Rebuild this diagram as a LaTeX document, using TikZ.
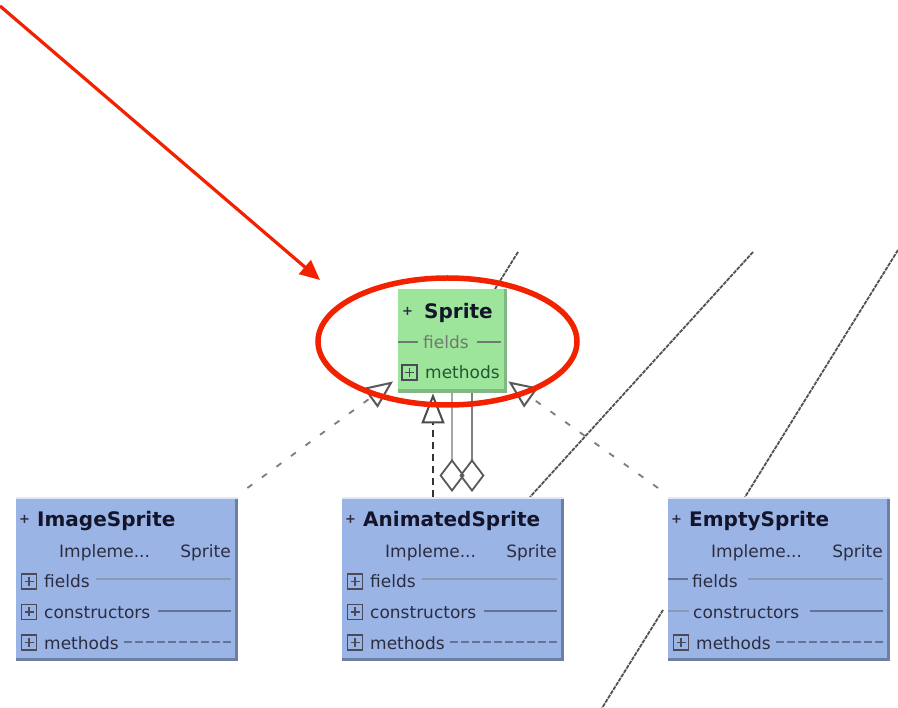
\documentclass[tikz,border=0pt]{standalone}
\usepackage{fontspec}
\setmainfont{DejaVu Sans}
\usetikzlibrary{arrows.meta,calc}
\pgfdeclarelayer{background}
\pgfsetlayers{background,main}
\definecolor{bluefill}{HTML}{9BB4E6}
\definecolor{blueshade}{HTML}{6F7FA3}
\definecolor{greenfill}{HTML}{9DE59B}
\definecolor{greenshade}{HTML}{82B883}
\definecolor{redmark}{HTML}{F22200}
\definecolor{txtdark}{HTML}{14142A}
\definecolor{txtmid}{HTML}{2C2C40}
\definecolor{fieldgrey}{HTML}{6E7A6E}
\definecolor{linegrey}{HTML}{5A5A5A}
\definecolor{iconline}{HTML}{4A4A58}
\tikzset{
  bluebox/.style={rectangle, fill=bluefill, draw=none, minimum width=222pt, minimum height=164pt, inner sep=0pt, anchor=north west},
  greenbox/.style={rectangle, fill=greenfill, draw=none, minimum width=109pt, minimum height=104pt, inner sep=0pt, anchor=north west},
  titletxt/.style={font=\fontsize{20}{22}\selectfont\bfseries, text=txtdark, inner sep=0pt, anchor=west, text height=14.6pt, text depth=0pt},
  rowtxt/.style={font=\fontsize{17}{19}\selectfont, text=txtmid, inner sep=0pt, anchor=west, text height=13pt, text depth=0pt},
  plustxt/.style={font=\fontsize{13}{14}\selectfont\bfseries, text=txtmid, inner sep=0pt, anchor=west},
  iconbox/.style={rectangle, draw=iconline, line width=1.6pt, minimum size=15pt, inner sep=0pt,
    path picture={\draw[iconline, line width=1.6pt] ($(path picture bounding box.west)+(3pt,0)$) -- ($(path picture bounding box.east)+(-3pt,0)$);
                  \draw[iconline, line width=1.6pt] ($(path picture bounding box.north)+(0,-3pt)$) -- ($(path picture bounding box.south)+(0,3pt)$);}},
  fieldline/.style={draw=blueshade!80!white, line width=1.6pt},
  ctorline/.style={draw=blueshade!90!black, line width=2.6pt},
  methline/.style={draw=blueshade!90!black, line width=1.8pt, dash pattern=on 8pt off 3pt},
  realize/.style={draw=linegrey!80!white, line width=1.8pt, dash pattern=on 6pt off 12pt, -{Triangle[open, length=28pt, width=24pt, line width=2pt, color=black!65]}},
  realizev/.style={draw=black!80, line width=2.4pt, dash pattern=on 7pt off 5pt, -{Triangle[open, length=30pt, width=23pt, line width=2pt, color=black!70]}},
  assoc/.style={line width=2pt, {Diamond[open, length=33pt, width=25pt, line width=1.8pt, color=black!65]}-},
  dotline/.style={draw=black!68, line width=1.8pt, dash pattern=on 4pt off 1pt},
  redline/.style={draw=redmark, line width=3.2pt}
}
\newcommand\UmlClass[4]{%
  \node[bluebox] (#1) at (#2,497) {};
  \fill[blueshade] ($(#1.north east)+(-3,0)$) rectangle (#1.south east);
  \fill[blueshade] ($(#1.south west)+(0,-3)$) rectangle (#1.south east);
  \draw[white!70!bluefill, line width=2pt] ($(#1.north west)+(0,1)$) -- ($(#1.north east)+(0,1)$);
  \node[plustxt] (#1-plus) at ($(#1.north west)+(3,22)$) {+};
  \node[titletxt] (#1-title) at ($(#1.north west)+(21,22)$) {#3};
  \node[rowtxt] (#1-impl) at ($(#1.north west)+(43,54)$) {Impleme...};
  \node[rowtxt, anchor=east] (#1-iface) at ($(#1.north west)+(215,54)$) {Sprite};
  \ifnum#4=1
    \draw[ctorline, line width=2pt] ($(#1.north west)+(0,82)$) -- ($(#1.north west)+(20,82)$);
    \node[rowtxt] (#1-fields) at ($(#1.north west)+(24,84.5)$) {fields};
    \draw[fieldline, line width=1.4pt] ($(#1.north west)+(0,114)$) -- ($(#1.north west)+(21,114)$);
    \node[rowtxt] (#1-ctors) at ($(#1.north west)+(25,115)$) {constructors};
  \else
    \node[iconbox] (#1-ficon) at ($(#1.north west)+(13,84.5)$) {};
    \node[rowtxt] (#1-fields) at ($(#1.north west)+(28,84.5)$) {fields};
    \node[iconbox] (#1-cicon) at ($(#1.north west)+(13,115)$) {};
    \node[rowtxt] (#1-ctors) at ($(#1.north west)+(28,115)$) {constructors};
  \fi
  \draw[fieldline] ($(#1.north west)+(80,82)$) -- ($(#1.north west)+(215,82)$);
  \draw[ctorline] ($(#1.north west)+(142,114)$) -- ($(#1.north west)+(215,114)$);
  \node[iconbox] (#1-micon) at ($(#1.north west)+(13,145.5)$) {};
  \node[rowtxt] (#1-meths) at ($(#1.north west)+(28,145.5)$) {methods};
  \draw[methline] ($(#1.north west)+(108,145)$) -- ($(#1.north west)+(215,145)$);
}
\begin{document}
\begin{tikzpicture}[x=1pt, y=-1pt]
  \useasboundingbox (0,0) rectangle (898,708);

  % Sprite interface box
  \node[greenbox] (sprite) at (398,289) {};
  \fill[greenshade] ($(sprite.north east)+(-3,0)$) rectangle (sprite.south east);
  \fill[greenshade] ($(sprite.south west)+(0,-4)$) rectangle (sprite.south east);
  \node[plustxt] (sprite-plus) at ($(sprite.north west)+(4,22)$) {+};
  \node[titletxt] (sprite-title) at ($(sprite.north west)+(26,22)$) {Sprite};
  \draw[fieldgrey, line width=1.6pt] ($(sprite.north west)+(0,53)$) -- ($(sprite.north west)+(20,53)$);
  \node[rowtxt, text=fieldgrey] (sprite-fields) at ($(sprite.north west)+(25,53.5)$) {fields};
  \draw[fieldgrey, line width=1.6pt] ($(sprite.north west)+(79,53)$) -- ($(sprite.north west)+(103,53)$);
  \node[iconbox] (sprite-micon) at ($(sprite.north west)+(11.5,83.5)$) {};
  \node[rowtxt, text=txtmid!80!green] (sprite-meths) at ($(sprite.north west)+(27,83.5)$) {methods};

  % implementing classes
  \UmlClass{img}{16}{ImageSprite}{0}
  \UmlClass{anim}{342}{AnimatedSprite}{0}
  \UmlClass{empty}{668}{EmptySprite}{1}

  % free ends of the cut-off lines
  \coordinate (la) at (518,252);
  \coordinate (lb) at (753,252);
  \coordinate (lc) at (898,250);
  \coordinate (ld) at (602,708);
  \coordinate (redstart) at (0,6);

  \begin{pgfonlayer}{background}
    \fill[white] (0,0) rectangle (898,708);
    \draw[dotline] (la) -- ($(sprite.north west)+(97,0)$);
    \draw[dotline] (lb) -- ($(anim.north west)+(188,0)$);
    \draw[dotline] (lc) -- ($(empty.north west)+(77,0)$);
    \draw[dotline] ($(empty.north west)+(-5,113)$) -- (ld);

    \draw[realize] ($(img.north east)+(9,-9)$) -- ($(sprite.south west)+(-5,-12)$);
    \draw[realize] ($(empty.north west)+(-10,-9)$) -- ($(sprite.south east)+(1,-12)$);
    \draw[realizev] ($(anim.north west)+(91,0)$) -- ($(sprite.south west)+(35,0)$);
    \draw[assoc, draw=black!35] ($(anim.north west)+(110,-5)$) -- ($(sprite.south west)+(54,0)$);
    \draw[assoc, draw=black!50] ($(anim.north west)+(130,-5)$) -- ($(sprite.south west)+(74,0)$);
  \end{pgfonlayer}

  % red highlight
  \draw[redmark, line width=5.5pt] (447.5,341.5) ellipse [x radius=129.5, y radius=63.5];
  \draw[redline, -{Triangle[length=20pt, width=18pt]}] (redstart) -- ($(sprite.north west)+(-78,-9)$);
\end{tikzpicture}
\end{document}
